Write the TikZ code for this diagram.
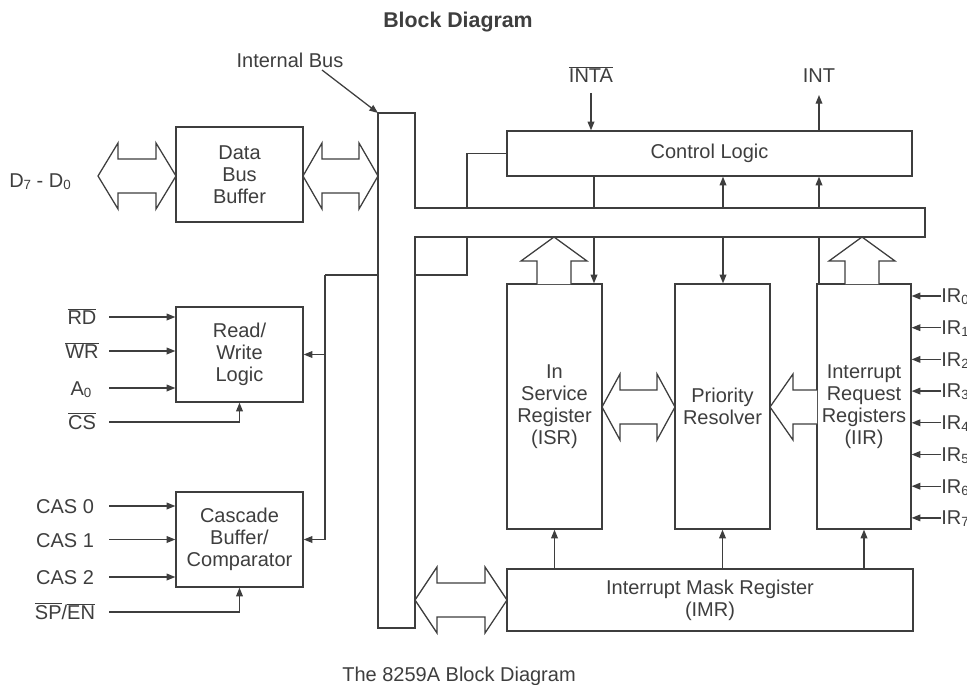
\documentclass[tikz,border=0pt]{standalone}
\usepackage{fontspec}
\setmainfont{Liberation Sans}
\usepackage{xcolor}
\usetikzlibrary{arrows.meta}
\usetikzlibrary{math}
\definecolor{ink}{RGB}{62,62,62}
\newcommand{\pxu}{0.75pt}
\newcommand{\sbs}[1]{\raisebox{-1.5pt}[0pt][0pt]{\fontsize{10}{10}\selectfont #1}}
\newcommand{\ovl}[1]{$\overline{\mbox{#1}}$}
% hollow bus arrows
\newcommand{\fatboth}[4]{% left tip, right tip, y, head
  \draw[fat] (#1,#3) -- ({#1+#4},{#3-\hw}) -- ({#1+#4},{#3-\sw})
    -- ({#2-#4},{#3-\sw}) -- ({#2-#4},{#3-\hw}) -- (#2,#3)
    -- ({#2-#4},{#3+\hw}) -- ({#2-#4},{#3+\sw})
    -- ({#1+#4},{#3+\sw}) -- ({#1+#4},{#3+\hw}) -- cycle;}
\newcommand{\fatleft}[4]{% tip x, tail x, y, head
  \draw[fat] (#2,{#3-\sw}) -- ({#1+#4},{#3-\sw}) -- ({#1+#4},{#3-\hw}) -- (#1,#3)
    -- ({#1+#4},{#3+\hw}) -- ({#1+#4},{#3+\sw}) -- (#2,{#3+\sw});}
\newcommand{\fatup}[4]{% x, tip y, tail y, head
  \draw[fat] ({#1-\sw},#3) -- ({#1-\sw},{#2+#4}) -- ({#1-\hw},{#2+#4}) -- (#1,#2)
    -- ({#1+\hw},{#2+#4}) -- ({#1+\sw},{#2+#4}) -- ({#1+\sw},#3);}
\tikzset{
  wire/.style={draw=ink, line width=0.95pt},
  sig/.style={wire, -{Triangle[length=6.5pt,width=5pt]}},
  fat/.style={draw=ink, line width=0.95pt, fill=white, line join=miter},
  block/.style={draw=ink, line width=0.95pt, fill=white, align=center, inner sep=0pt,
    text=ink, font=\fontsize{15}{16.5}\selectfont},
  lbl/.style={inner sep=0pt, text=ink, font=\fontsize{15}{16.5}\selectfont},
}

\begin{document}
\begin{tikzpicture}[x=0.75pt, y=-0.75pt]
\tikzmath{
\sw = 17;
\hw = 33;
}
\useasboundingbox (0,0) rectangle (967,685);

\node[lbl, font=\bfseries\fontsize{16}{18}\selectfont] (title) at (458,22) {Block Diagram};
\node[lbl] (ibus) at (290,60) {Internal Bus};
\node[lbl] (caption) at (459,676) {The 8259A Block Diagram};

% internal bus
\coordinate (vbtl) at (378,113);
\coordinate (hbtl) at (415,208);
\coordinate (hbbl) at (415,237);
\draw[wire] (vbtl) -- (415,113) -- (hbtl) -- (925,208) -- (925,237) -- (hbbl) -- (415,628) -- (378,628) -- cycle;
\coordinate (ibusfrom) at (322,70);
\draw[sig] (ibusfrom) -- (vbtl);

% blocks
\node[block, minimum width=127*\pxu, minimum height=95*\pxu] (dbb) at (239.5,174.5) {Data\\Bus\\Buffer};
\node[block, minimum width=127*\pxu, minimum height=95*\pxu] (rw) at (239.5,354.5) {Read/\\Write\\Logic};
\node[block, minimum width=127*\pxu, minimum height=95*\pxu] (casc) at (239.5,539.5) {Cascade\\Buffer/\\Comparator};
\node[block, minimum width=405*\pxu, minimum height=45*\pxu] (ctrl) at (709.5,153.5) {Control Logic};
\node[block, minimum width=95*\pxu, minimum height=245*\pxu] (isr) at (554.5,406.5) {In\\Service\\Register\\(ISR)};
\node[block, minimum width=95*\pxu, minimum height=245*\pxu] (pr) at (722.5,406.5) {Priority\\Resolver};
\node[block, minimum width=94*\pxu, minimum height=245*\pxu] (iir) at (864,406.5) {Interrupt\\Request\\Registers\\(IIR)};
\node[block, minimum width=406*\pxu, minimum height=62*\pxu] (imr) at (710,600) {Interrupt Mask Register\\(IMR)};

% hollow arrows
\fatboth{98}{176}{176}{20}
\fatboth{303}{378}{176}{19}
\fatboth{602}{675}{407}{18}
\fatboth{415}{507}{600}{22}
\fatleft{770}{817}{407}{23}
\fatup{554}{237}{284}{24}
\fatup{862}{237}{284}{24}

\node[lbl] (dbus) at (40,181) {D\sbs{7} - D\sbs{0}};

% control logic pins
\coordinate (intain) at (591,93);
\coordinate (intout) at (819,95);
\node[lbl, anchor=base] (inta) at (591,83) {\ovl{INTA}};
\node[lbl, anchor=base] (int) at (819,83) {INT};
\draw[sig] (intain) -- (intain |- ctrl.north);
\draw[sig] (intout |- ctrl.north) -- (intout);

% bus taps
\coordinate (colA) at (594,0);
\coordinate (colB) at (723,0);
\coordinate (colC) at (819,0);
\coordinate (colD) at (467,0);
\draw[wire] (colA |- ctrl.south) -- (colA |- hbtl);
\draw[sig] (colA |- hbbl) -- (colA |- isr.north);
\draw[sig] (colB |- hbtl) -- (colB |- ctrl.south);
\draw[sig] (colB |- hbbl) -- (colB |- pr.north);
\draw[sig] (colC |- hbtl) -- (colC |- ctrl.south);
\draw[wire] (colC |- iir.north) -- (colC |- hbbl);
\draw[wire] (ctrl.west) -| (colD |- hbtl);
\coordinate (vbr) at (415,275);
\draw[wire] (colD |- hbbl) |- (vbr);

\coordinate (vbl) at (378,275);
\coordinate (drop) at (325,275);
\draw[wire] (vbl) -- (drop);
\draw[sig] (drop) |- (rw.east);
\draw[sig] (drop) |- (casc.east);

% mask register
\draw[sig] (isr.south |- imr.north) -- (isr.south);
\draw[sig] (pr.south |- imr.north) -- (pr.south);
\draw[sig] (iir.south |- imr.north) -- (iir.south);

% read/write inputs
\coordinate (rdin) at (109,317);
\coordinate (wrin) at (109,351);
\coordinate (a0in) at (109,388);
\coordinate (csin) at (109,422);
\node[lbl, anchor=base] (rd) at (82,324.5) {\ovl{RD}};
\node[lbl, anchor=base] (wr) at (82,358.5) {\ovl{WR}};
\node[lbl, anchor=base] (a0) at (81,395.5) {A\sbs{0}};
\node[lbl, anchor=base] (cs) at (82,429.5) {\ovl{CS}};
\draw[sig] (rdin) -- (rdin -| rw.west);
\draw[sig] (wrin) -- (wrin -| rw.west);
\draw[sig] (a0in) -- (a0in -| rw.west);
\draw[sig] (csin) -| (rw.south);

% cascade inputs
\coordinate (cas0in) at (109,506);
\coordinate (cas1in) at (109,539.5);
\coordinate (cas2in) at (109,577);
\coordinate (spin) at (109,612);
\node[lbl, anchor=base] (cas0) at (65,513.5) {CAS 0};
\node[lbl, anchor=base] (cas1) at (65,547) {CAS 1};
\node[lbl, anchor=base] (cas2) at (65,584.5) {CAS 2};
\node[lbl, anchor=base] (spen) at (65,619.5) {\ovl{SP}/\ovl{EN}};
\draw[sig] (cas0in) -- (cas0in -| casc.west);
\draw[sig] (cas1in) -- (cas1in -| casc.west);
\draw[sig] (cas2in) -- (cas2in -| casc.west);
\draw[sig] (spin) -| (casc.south);

% interrupt requests
\foreach \i in {0,...,7}{
  \node[lbl, anchor=west] (ir\i) at (941,{296+31.7*\i}) {IR\sbs{\i}};
  \draw[sig] (ir\i.west) -- (ir\i.west -| iir.east);
}

\end{tikzpicture}
\end{document}
